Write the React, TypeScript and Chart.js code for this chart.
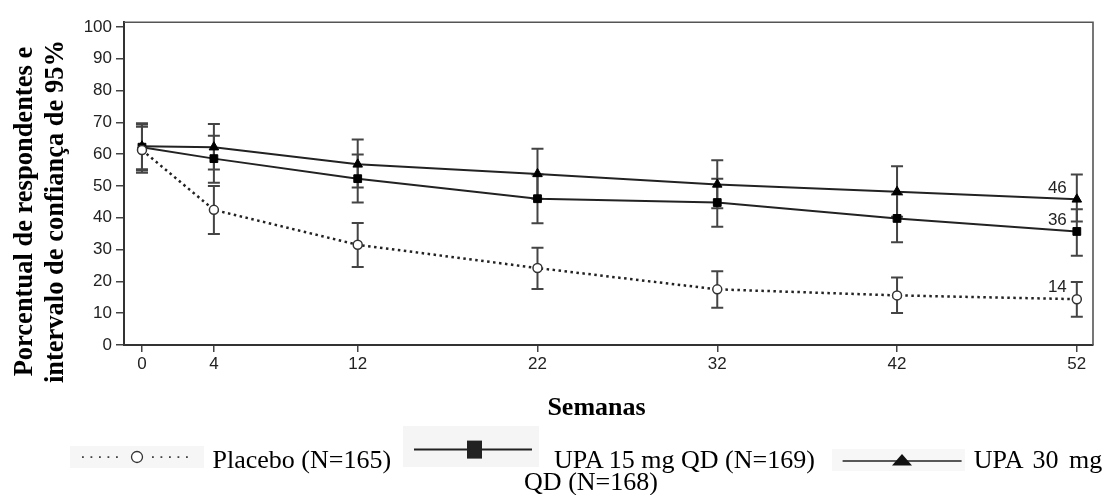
import React, { useEffect, useRef } from 'react';
import { Chart, registerables } from 'chart.js';

Chart.register(...registerables);

// ---------- data ----------
const weeks = [0, 4, 12, 22, 32, 42, 52];
const xTicks = [0, 4, 12, 22, 32, 42, 52];
const yTicks = [0, 10, 20, 30, 40, 50, 60, 70, 80, 90, 100];

const seriesNames = ['Placebo (N=165)', 'UPA 15 mg QD (N=169)', 'UPA 30 mg QD (N=168)'];

const placebo = [61.3, 42.5, 31.5, 24.2, 17.5, 15.6, 14.4];
const placeboLow = [54.2, 34.9, 24.5, 17.6, 11.7, 10.1, 8.9];
const placeboHigh = [68.6, 50.0, 38.4, 30.6, 23.2, 21.2, 19.8];

const upa15 = [62.2, 58.6, 52.3, 46.0, 44.8, 39.8, 35.7];
const upa15Low = [54.9, 51.0, 44.8, 38.3, 37.2, 32.3, 28.1];
const upa15High = [69.3, 65.8, 59.9, 53.6, 52.3, 47.3, 42.7];

const upa30 = [62.5, 62.2, 56.8, 53.8, 50.5, 48.2, 45.8];
const upa30Low = [55.3, 55.2, 49.5, 46.0, 43.0, 40.3, 38.8];
const upa30High = [69.7, 69.5, 64.6, 61.7, 58.1, 56.2, 53.6];

const endLabels = ['14', '36', '46'];

const yTitleLines = ['Porcentual de respondentes e', 'intervalo de confiança de 95%'];
const xTitle = 'Semanas';

// ---------- styling ----------
const SANS = '"Liberation Sans", Arial, sans-serif';
const SERIF = '"Liberation Serif", "Times New Roman", serif';

const toPoints = (vals: number[]) => weeks.map((w, i) => ({ x: w, y: vals[i] }));

const errorBarPlugin = {
  id: 'errorBars',
  beforeDatasetsDraw(chart: any) {
    const { ctx, chartArea } = chart;
    const xs = chart.scales.x;
    const ys = chart.scales.y;
    ctx.save();
    // top and right frame
    ctx.strokeStyle = '#555';
    ctx.lineWidth = 1.6;
    ctx.beginPath();
    ctx.moveTo(chartArea.left, chartArea.top);
    ctx.lineTo(chartArea.right, chartArea.top);
    ctx.lineTo(chartArea.right, chartArea.bottom);
    ctx.stroke();
    // error bars
    ctx.strokeStyle = '#444';
    ctx.lineWidth = 2;
    chart.data.datasets.forEach((ds: any) => {
      ds.low.forEach((lo: number, i: number) => {
        const px = xs.getPixelForValue(weeks[i]);
        const y1 = ys.getPixelForValue(lo);
        const y2 = ys.getPixelForValue(ds.high[i]);
        ctx.beginPath();
        ctx.moveTo(px, y1);
        ctx.lineTo(px, y2);
        ctx.moveTo(px - 6, y1);
        ctx.lineTo(px + 6, y1);
        ctx.moveTo(px - 6, y2);
        ctx.lineTo(px + 6, y2);
        ctx.stroke();
      });
    });
    ctx.restore();
  },
  afterDatasetsDraw(chart: any) {
    const { ctx } = chart;
    ctx.save();
    ctx.fillStyle = '#222';
    ctx.font = `17px ${SANS}`;
    ctx.textAlign = 'right';
    ctx.textBaseline = 'middle';
    chart.data.datasets.forEach((ds: any, di: number) => {
      const meta = chart.getDatasetMeta(di);
      const last = meta.data[meta.data.length - 1];
      ctx.fillText(endLabels[di], last.x - 10, last.y - 11.5);
    });
    ctx.restore();
  },
  afterDraw(chart: any) {
    const { ctx, chartArea } = chart;
    ctx.save();
    ctx.fillStyle = '#000';
    ctx.font = `bold 26.5px ${SERIF}`;
    ctx.textAlign = 'center';
    ctx.textBaseline = 'alphabetic';
    const cy = (chartArea.top + chartArea.bottom) / 2 + 28;
    const baseXs = [24, 55];
    yTitleLines.forEach((line, i) => {
      ctx.save();
      ctx.translate(baseXs[i], cy);
      ctx.rotate(-Math.PI / 2);
      ctx.fillText(line, 0, 0);
      ctx.restore();
    });
    ctx.font = `bold 26px ${SERIF}`;
    ctx.fillText(xTitle, (chartArea.left + chartArea.right) / 2 - 12, chartArea.bottom + 70);
    ctx.restore();
  },
};

function ChartCanvas() {
  const ref = useRef<HTMLCanvasElement | null>(null);
  useEffect(() => {
    if (!ref.current) return;
    const chart = new Chart(ref.current, {
      type: 'line',
      data: {
        datasets: [
          {
            label: seriesNames[0],
            data: toPoints(placebo),
            low: placeboLow,
            high: placeboHigh,
            borderColor: '#222',
            borderWidth: 2.5,
            borderDash: [2.5, 3.5],
            pointStyle: 'circle',
            pointRadius: 4.5,
            pointBackgroundColor: '#fff',
            pointBorderColor: '#333',
            pointBorderWidth: 1.5,
            tension: 0,
          } as any,
          {
            label: seriesNames[1],
            data: toPoints(upa15),
            low: upa15Low,
            high: upa15High,
            borderColor: '#222',
            borderWidth: 2,
            pointStyle: 'rect',
            pointRadius: 5.5,
            pointBackgroundColor: '#000',
            pointBorderColor: '#000',
            pointBorderWidth: 1,
            tension: 0,
          } as any,
          {
            label: seriesNames[2],
            data: toPoints(upa30),
            low: upa30Low,
            high: upa30High,
            borderColor: '#222',
            borderWidth: 2,
            pointStyle: 'triangle',
            pointRadius: 5.5,
            pointBackgroundColor: '#000',
            pointBorderColor: '#000',
            pointBorderWidth: 1,
            tension: 0,
          } as any,
        ],
      },
      options: {
        animation: false,
        responsive: true,
        maintainAspectRatio: false,
        layout: { padding: { top: 12, right: 13, left: 0, bottom: 0 } },
        plugins: {
          legend: { display: false },
          tooltip: { enabled: false },
          title: { display: false },
        },
        scales: {
          x: {
            type: 'linear',
            min: -1,
            max: 52.9,
            afterBuildTicks: (scale: any) => {
              scale.ticks = xTicks.map((v) => ({ value: v }));
            },
            afterFit: (scale: any) => {
              scale.height = 93;
            },
            ticks: {
              color: '#222',
              font: { family: SANS, size: 17 },
              padding: 2,
              maxRotation: 0,
              autoSkip: false,
            },
            grid: {
              drawOnChartArea: false,
              drawTicks: true,
              tickLength: 7,
              color: '#444',
              lineWidth: 1.5,
            },
            border: { display: true, color: '#333', width: 2 },
          },
          y: {
            type: 'linear',
            min: 0,
            max: 101.5,
            afterBuildTicks: (scale: any) => {
              scale.ticks = yTicks.map((v) => ({ value: v }));
            },
            afterFit: (scale: any) => {
              scale.width = 116;
            },
            ticks: {
              color: '#222',
              font: { family: SANS, size: 17 },
              padding: 4,
              autoSkip: false,
            },
            grid: {
              drawOnChartArea: false,
              drawTicks: true,
              tickLength: 8,
              color: '#444',
              lineWidth: 1.5,
            },
            border: { display: true, color: '#333', width: 2 },
          },
        },
      } as any,
      plugins: [errorBarPlugin],
    });
    return () => chart.destroy();
  }, []);
  return <canvas ref={ref} style={{ display: 'block' }} />;
}

function PlaceboSample() {
  const dots = [];
  for (let x = 12; x <= 52; x += 8.5) dots.push(x);
  for (let x = 82; x <= 124; x += 8.5) dots.push(x);
  return (
    <svg width={134} height={22} style={{ background: '#f6f6f6', marginBottom: -1.5, display: 'block' }}>
      {dots.map((x, i) => (
        <rect key={i} x={x} y={10.2} width={1.8} height={1.8} fill="#444" />
      ))}
      <circle cx={67} cy={11} r={5.5} fill="#fff" stroke="#333" strokeWidth={1.3} />
    </svg>
  );
}

function Upa15Sample() {
  return (
    <svg width={136} height={41} style={{ background: '#f5f5f5', marginBottom: 0.6, display: 'block' }}>
      <line x1={11} y1={23.6} x2={129} y2={23.6} stroke="#222" strokeWidth={2} />
      <rect x={64} y={14.6} width={15} height={18} fill="#222" />
    </svg>
  );
}

function Upa30Sample() {
  return (
    <svg width={133} height={22} style={{ background: '#f7f7f7', marginBottom: -3.5, display: 'block' }}>
      <line x1={10.6} y1={12} x2={129.6} y2={12} stroke="#222" strokeWidth={1.6} />
      <polygon points="60,16.5 80,16.5 70,5" fill="#111" />
    </svg>
  );
}

export default function App() {
  const [upa30a, upa30b] = seriesNames[2].split(' QD ');
  const textStyle: React.CSSProperties = { whiteSpace: 'nowrap', lineHeight: '26px' };
  return (
    <div
      style={{
        position: 'relative',
        width: 1098,
        height: 487,
        fontFamily: SERIF,
        fontSize: 26,
        color: '#000',
      }}
    >
      <div style={{ position: 'absolute', left: 0, top: 0, width: 1098, height: 430 }}>
        <ChartCanvas />
      </div>
      <div
        style={{
          position: 'absolute',
          left: 62,
          top: 418,
          display: 'flex',
          alignItems: 'baseline',
          whiteSpace: 'nowrap',
        }}
      >
        <PlaceboSample />
        <span style={{ ...textStyle, marginLeft: 8.5 }}>{seriesNames[0]}</span>
        <span style={{ marginLeft: 12 }}>
          <Upa15Sample />
        </span>
        <span style={{ ...textStyle, marginLeft: 15 }}>{seriesNames[1]}</span>
        <span style={{ marginLeft: 17 }}>
          <Upa30Sample />
        </span>
        <span style={{ ...textStyle, marginLeft: 9, wordSpacing: 4 }}>{upa30a}</span>
      </div>
      <div
        style={{
          position: 'absolute',
          left: 283,
          top: 461,
          width: 600,
          textAlign: 'center',
          ...textStyle,
        }}
      >
        {'QD ' + upa30b}
      </div>
    </div>
  );
}
